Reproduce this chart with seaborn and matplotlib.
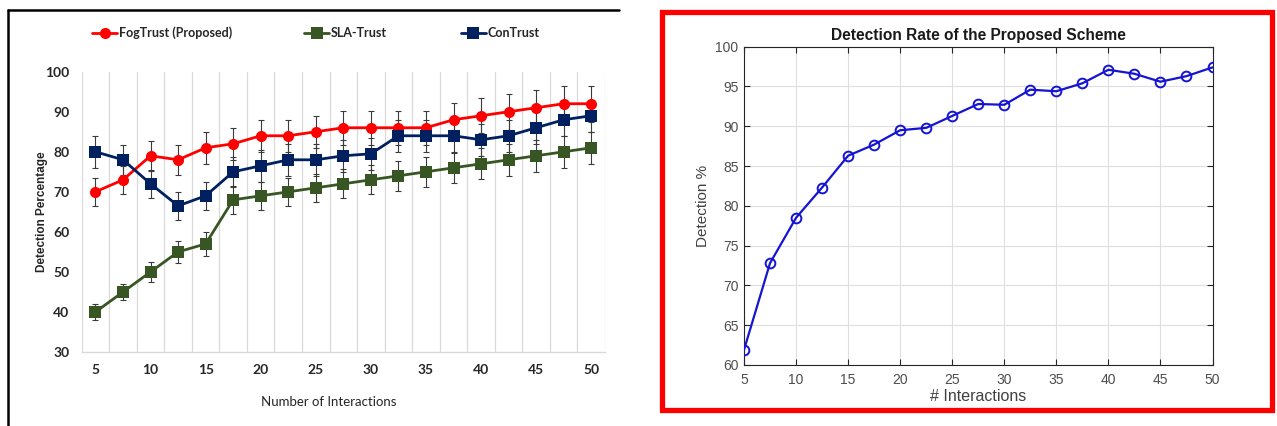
import numpy as np
import pandas as pd
import matplotlib
matplotlib.use("Agg")
import matplotlib.pyplot as plt
import seaborn as sns
from matplotlib.lines import Line2D
from matplotlib.patches import Rectangle

# ---------------- data ----------------
interactions = [5, 7.5, 10, 12.5, 15, 17.5, 20, 22.5, 25, 27.5, 30, 32.5, 35, 37.5, 40, 42.5, 45, 47.5, 50]

fogtrust = [70, 73, 79, 78, 81, 82, 84, 84, 85, 86, 86, 86, 86, 88, 89, 90, 91, 92, 92]
slatrust = [40, 45, 50, 55, 57, 68, 69, 70, 71, 72, 73, 74, 75, 76, 77, 78, 79, 80, 81]
contrust = [80, 78, 72, 66.5, 69, 75, 76.5, 78, 78, 79, 79.5, 84, 84, 84, 83, 84, 86, 88, 89]

fogtrust_err = [3.5, 3.5, 3.8, 3.8, 4, 4, 4, 4, 4, 4.2, 4.2, 4.2, 4.2, 4.3, 4.4, 4.5, 4.5, 4.5, 4.5]
slatrust_err = [2, 2, 2.5, 2.8, 3, 3.5, 3.5, 3.5, 3.5, 3.6, 3.6, 3.7, 3.7, 3.8, 3.9, 4, 4, 4, 4]
contrust_err = [4, 3.8, 3.5, 3.5, 3.5, 3.8, 4, 4, 4, 4, 4, 4, 4, 4, 4, 4, 4, 4, 4]

series_names = ["FogTrust (Proposed)", "SLA-Trust", "ConTrust"]
series_colors = ["#FF0000", "#375623", "#002060"]
series_markers = ["o", "s", "s"]

proposed_detection = [61.9, 72.8, 78.5, 82.3, 86.3, 87.7, 89.5, 89.8, 91.3, 92.8, 92.7,
                      94.6, 94.4, 95.4, 97.1, 96.6, 95.6, 96.3, 97.4]

left_xticks = [5, 10, 15, 20, 25, 30, 35, 40, 45, 50]
left_yticks = [30, 40, 50, 60, 70, 80, 90, 100]
right_yticks = [60, 65, 70, 75, 80, 85, 90, 95, 100]

# ---------------- style ----------------
sns.set_theme(style="white")
calib = ["Lato", "DejaVu Sans"]
plt.rcParams["font.family"] = ["Liberation Sans", "DejaVu Sans"]

W, H = 1277, 426
fig = plt.figure(figsize=(W / 100, H / 100), dpi=100)

def fx(px):
    return px / W

def fy(py):
    return 1 - py / H

# ---------------- left panel ----------------
L0, L1, T0, B0 = 81.7, 605.0, 71.7, 352.0
axL = fig.add_axes([fx(L0), fy(B0), fx(L1) - fx(L0), fy(T0) - fy(B0)])

df = pd.DataFrame({
    "x": interactions * 3,
    "y": fogtrust + slatrust + contrust,
    "series": sum([[n] * len(interactions) for n in series_names], []),
})
errs = [fogtrust_err, slatrust_err, contrust_err]
vals = [fogtrust, slatrust, contrust]

for v, e in zip(vals, errs):
    axL.errorbar(interactions, v, yerr=e, fmt="none", ecolor="#3a3a3a",
                 elinewidth=0.8, capsize=2.5, capthick=0.8, zorder=2)

sns.lineplot(data=df, x="x", y="y", hue="series", style="series",
             palette=dict(zip(series_names, series_colors)),
             markers=dict(zip(series_names, series_markers)),
             dashes=False, markersize=8, linewidth=2, markeredgewidth=0,
             ax=axL, legend=False, zorder=3)

axL.set_xlim(3.75, 51.25)
axL.set_ylim(30, 100)
for gx in np.arange(3.75, 51.3, 2.5):
    axL.axvline(gx, color="#D9D9D9", lw=0.9, zorder=0)
axL.set_xticks(left_xticks)
axL.set_yticks(left_yticks)
axL.tick_params(axis="x", length=0, pad=9)
axL.tick_params(axis="y", length=0, pad=9)
for lab in axL.get_xticklabels() + axL.get_yticklabels():
    lab.set_fontfamily(calib)
    lab.set_fontweight("bold")
    lab.set_fontsize(10)
    lab.set_color("#262626")
for s in ["top", "right", "left"]:
    axL.spines[s].set_visible(False)
axL.spines["bottom"].set_color("#D9D9D9")
axL.spines["bottom"].set_linewidth(1)
axL.set_xlabel("Number of Interactions", fontsize=9.5, family=calib, color="#262626")
axL.xaxis.set_label_coords((329 - L0) / (L1 - L0), (B0 - 396) / (B0 - T0))
axL.set_ylabel("Detection Percentage", fontsize=8.5, fontweight="bold",
               color="#262626")
axL.yaxis.set_label_coords((48 - L0) / (L1 - L0), 0.5)

# legend entries at their own positions
leg_x = [92, 304, 461]
for name, col, mk, lx in zip(series_names, series_colors, series_markers, leg_x):
    h = Line2D([], [], color=col, marker=mk, markersize=8, lw=2, markeredgewidth=0)
    fig.legend(handles=[h], labels=[name], loc="center left",
               bbox_to_anchor=(fx(lx), fy(33)), frameon=False,
               handlelength=2.0, handletextpad=0.15, borderpad=0, borderaxespad=0,
               prop={"family": calib, "weight": "bold", "size": 9})

# black frame of left panel
fig.add_artist(Line2D([fx(8), fx(619)], [fy(10), fy(10)], color="black", lw=1.8,
                      transform=fig.transFigure))
fig.add_artist(Line2D([fx(8), fx(8)], [fy(10), fy(426)], color="black", lw=1.8,
                      transform=fig.transFigure))

# ---------------- right panel ----------------
R0, R1, RT, RB = 744.0, 1212.5, 46.7, 365.0
axR = fig.add_axes([fx(R0), fy(RB), fx(R1) - fx(R0), fy(RT) - fy(RB)])
dfr = pd.DataFrame({"x": interactions, "y": proposed_detection})
sns.lineplot(data=dfr, x="x", y="y", ax=axR, color="#1414D2", linewidth=1.6,
             marker="o", markersize=7, markerfacecolor="none",
             markeredgecolor="#1414D2", markeredgewidth=1.4, zorder=3)
axR.set_xlim(5, 50)
axR.set_ylim(60, 100)
axR.set_xticks(left_xticks)
axR.set_yticks(right_yticks)
axR.grid(True, color="#DEDEDE", lw=0.8)
axR.tick_params(axis="both", direction="in", length=4, width=0.8, colors="#262626",
                top=True, right=True, bottom=True, left=True, labelsize=10)
axR.tick_params(axis="x", pad=6)
axR.tick_params(axis="y", pad=4)
for lab in axR.get_xticklabels() + axR.get_yticklabels():
    lab.set_color("#4D4D4D")
for s in axR.spines.values():
    s.set_visible(True)
    s.set_color("#262626")
    s.set_linewidth(0.8)
axR.set_xlabel("# Interactions", fontsize=11.5, color="#404040")
axR.xaxis.set_label_coords(0.5, (RB - 389) / (RB - RT))
axR.set_ylabel("Detection %", fontsize=11, color="#404040", labelpad=4)
axR.set_title("Detection Rate of the Proposed Scheme", fontsize=11.2, fontweight="bold",
              color="#1a1a1a", pad=5)

fig.add_artist(Rectangle((fx(662), fy(410)), fx(1272) - fx(662), fy(12) - fy(410),
                         fill=False, edgecolor="#FF0000", lw=3.8,
                         transform=fig.transFigure))

fig.savefig("out.png", dpi=100)
